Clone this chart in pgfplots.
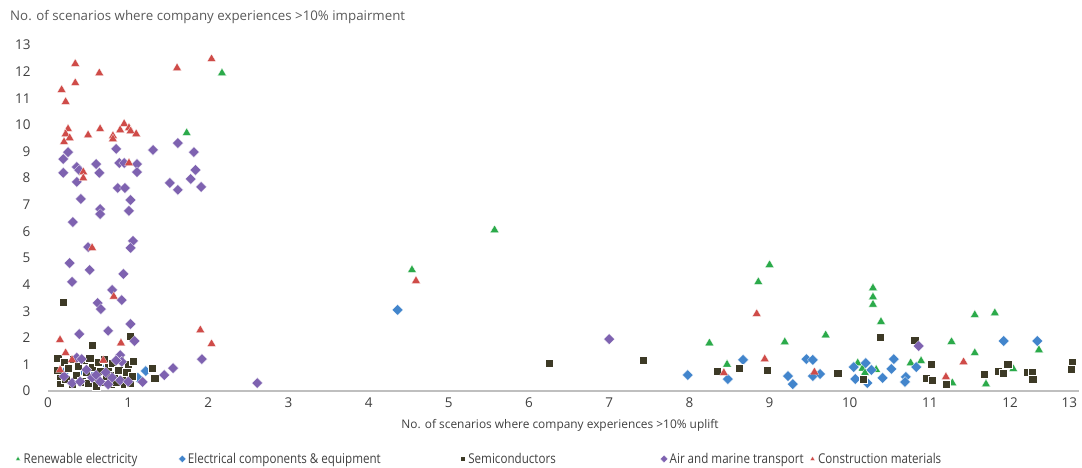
\documentclass[border=0pt]{standalone}
\usepackage{pgfplots}
\pgfplotsset{compat=1.18}
\usepackage{pgfplotstable}
\usepackage{fontspec}
\setmainfont{Open Sans}
\newfontfamily\legendfont[FakeStretch=0.86]{Open Sans}
\definecolor{cgreen}{HTML}{2BAA4A}
\definecolor{cblue}{HTML}{4285CC}
\definecolor{cdark}{HTML}{3D3A26}
\definecolor{cpurple}{HTML}{7E62B0}
\definecolor{cred}{HTML}{CF4B48}
\definecolor{ctext}{HTML}{404040}
\definecolor{ctitle}{HTML}{595959}

\pgfplotstableread{
x y
2.17 11.95
1.73 9.70
5.57 6.05
4.54 4.55
9.00 4.74
8.86 4.10
8.25 1.80
8.47 1.00
9.19 1.84
9.70 2.10
10.29 3.87
10.29 3.53
10.29 3.25
10.39 2.60
10.33 0.80
10.10 1.05
10.16 0.85
10.19 0.68
10.76 1.05
10.89 1.13
11.27 1.85
11.28 0.30
11.56 2.86
11.56 1.43
11.70 0.26
11.81 2.93
12.04 0.83
12.36 1.54
}\renewable

\pgfplotstableread{
x y
4.36 3.05
7.98 0.60
8.48 0.45
8.67 1.17
9.23 0.56
9.29 0.26
9.46 1.20
9.54 1.17
9.54 0.56
9.63 0.64
10.05 0.90
10.07 0.45
10.20 1.05
10.22 0.30
10.27 0.79
10.41 0.49
10.52 0.83
10.55 1.20
10.70 0.53
10.69 0.34
10.83 0.90
11.92 1.88
12.34 1.88
0.20 0.70
0.40 0.75
0.55 0.68
0.70 0.80
0.80 0.40
0.95 0.55
1.12 0.50
1.22 0.75
}\electrical

\pgfplotstableread{
x y
6.25 1.05
7.42 1.15
8.35 0.75
8.62 0.86
8.97 0.79
9.85 0.68
10.17 0.45
10.38 2.03
10.81 1.92
11.02 1.02
10.95 0.49
11.03 0.41
11.20 0.26
11.68 0.64
11.85 0.75
11.91 0.68
11.97 1.02
12.21 0.71
12.27 0.71
12.28 0.45
12.77 1.09
12.76 0.83
0.12 1.25
0.15 0.30
0.15 0.55
0.12 0.80
0.20 1.10
0.22 0.45
0.25 0.85
0.30 0.25
0.32 1.20
0.35 0.60
0.38 0.95
0.42 0.35
0.45 1.15
0.48 0.70
0.50 0.30
0.52 1.25
0.55 0.90
0.58 0.50
0.60 0.20
0.62 1.10
0.65 0.75
0.68 0.35
0.70 1.20
0.72 0.55
0.75 0.90
0.78 0.25
0.80 1.05
0.82 0.60
0.85 0.35
0.88 0.80
0.90 1.15
0.92 0.45
0.95 0.25
0.98 0.70
1.00 1.00
1.02 0.30
1.05 0.55
1.06 1.13
1.30 0.86
1.33 0.49
0.19 3.35
0.55 1.72
1.02 2.05
}\semis

\pgfplotstableread{
x y
0.25 8.98
0.19 8.72
0.19 8.20
0.36 8.42
0.39 8.30
0.36 7.86
0.60 8.53
0.64 8.20
0.85 9.10
0.89 8.57
0.95 8.57
1.11 8.53
1.11 8.23
0.87 7.63
0.96 7.63
0.41 7.22
1.03 7.18
0.65 6.84
0.65 6.65
1.01 6.77
0.31 6.35
1.31 9.06
1.62 9.32
1.82 8.98
1.84 8.31
1.78 7.97
1.91 7.67
1.52 7.82
1.62 7.56
0.50 5.41
1.06 5.64
1.03 5.38
0.27 4.81
0.52 4.55
0.30 4.10
0.94 4.40
0.80 3.80
0.92 3.42
0.62 3.31
0.66 3.08
1.03 2.52
0.75 2.26
0.39 2.14
1.08 1.88
0.90 1.35
0.92 1.10
1.56 0.86
1.45 0.60
1.18 0.34
1.92 1.20
2.61 0.30
7.00 1.95
10.86 1.69
0.36 1.25
0.42 1.20
0.55 0.50
0.60 0.60
0.72 0.70
0.80 0.50
0.90 0.40
0.30 0.30
0.85 1.15
0.40 0.35
0.65 0.35
1.00 0.35
0.20 0.55
0.48 0.80
0.75 0.25
}\air

\pgfplotstableread{
x y
0.34 12.30
0.64 11.95
0.34 11.58
0.17 11.32
0.22 10.87
1.61 12.14
2.04 12.48
0.25 9.85
0.22 9.66
0.27 9.51
0.20 9.36
0.50 9.62
0.65 9.85
0.81 9.59
0.81 9.47
0.95 10.04
0.90 9.81
1.01 9.89
1.03 9.77
1.10 9.66
1.01 8.57
0.44 8.23
0.44 8.00
0.55 5.38
0.82 3.55
0.15 1.92
1.90 2.29
2.04 1.77
0.91 1.80
0.22 1.43
0.30 1.17
0.69 1.15
0.15 0.79
4.59 4.14
8.84 2.90
8.94 1.20
8.43 0.68
9.56 0.71
11.42 1.09
11.20 0.53
}\construction

\begin{document}
\begin{tikzpicture}
\path[use as bounding box] (-48pt,-77pt) rectangle (1034pt,391pt);
\begin{axis}[
  at={(0pt,0pt)}, anchor=south west,
  scale only axis, width=1031pt, height=348.5pt,
  xmin=0, xmax=12.86, ymin=0, ymax=13.1,
  clip=false,
  axis x line*=bottom, axis y line*=left,
  x axis line style={draw=black!25, line width=1.3pt, -},
  y axis line style={draw=none},
  tick style={draw=none},
  xtick={0,1,...,12},
  extra x ticks={12.74}, extra x tick labels={13},
  extra x tick style={tick style={draw=none}},
  ytick={0,1,...,13},
  /pgf/number format/assume math mode=true,
  tick label style={font=\fontsize{13.5}{15}\selectfont, text=ctext},
  xticklabel style={yshift=-3pt},
  yticklabel style={xshift=-14pt},
  legend columns=5,
  legend cell align=left,
  legend style={draw=none, fill=none, inner sep=0pt,
    at={(axis description cs:-0.032,-0.195)}, anchor=west,
    font=\legendfont\fontsize{13.5}{15}\selectfont, text=ctext,
    /tikz/every even column/.append style={column sep=0pt}},
  legend image code/.code={\path (0pt,0pt) (6pt,0pt); \draw[#1, mark size=2.6pt] plot coordinates {(2.6pt,0pt)};},
]
\addplot[only marks, mark=triangle*, mark size=5pt, color=cgreen, mark options={draw=white, line width=0.2pt, fill=cgreen}] table[x=x,y=y] {\renewable};
\addlegendentry{\makebox[153pt][l]{Renewable electricity}}
\addplot[only marks, mark=square*, mark size=3.8pt, color=cblue, mark options={rotate=45, draw=white, line width=0.2pt, fill=cblue}] table[x=x,y=y] {\electrical};
\addlegendentry{\makebox[270pt][l]{Electrical components \& equipment}}
\addplot[only marks, mark=square*, mark size=4.1pt, color=cdark, mark options={draw=white, line width=0.2pt, fill=cdark}] table[x=x,y=y] {\semis};
\addlegendentry{\makebox[190pt][l]{Semiconductors}}
\addplot[only marks, mark=square*, mark size=3.8pt, color=cpurple, mark options={rotate=45, draw=white, line width=0.2pt, fill=cpurple}] table[x=x,y=y] {\air};
\addlegendentry{\makebox[138pt][l]{Air and marine transport}}
\addplot[only marks, mark=triangle*, mark size=5pt, color=cred, mark options={draw=white, line width=0.2pt, fill=cred}] table[x=x,y=y] {\construction};
\addlegendentry{Construction materials}
\end{axis}
\node[anchor=west, font=\fontsize{13.3}{15}\selectfont, text=ctitle, inner sep=0pt] at (-38pt,374pt) {No. of scenarios where company experiences >10\% impairment};
\node[font=\fontsize{11.9}{15}\selectfont, text=ctext, inner sep=0pt] at (512pt,-34pt) {No. of scenarios where company experiences >10\% uplift};
\end{tikzpicture}
\end{document}
